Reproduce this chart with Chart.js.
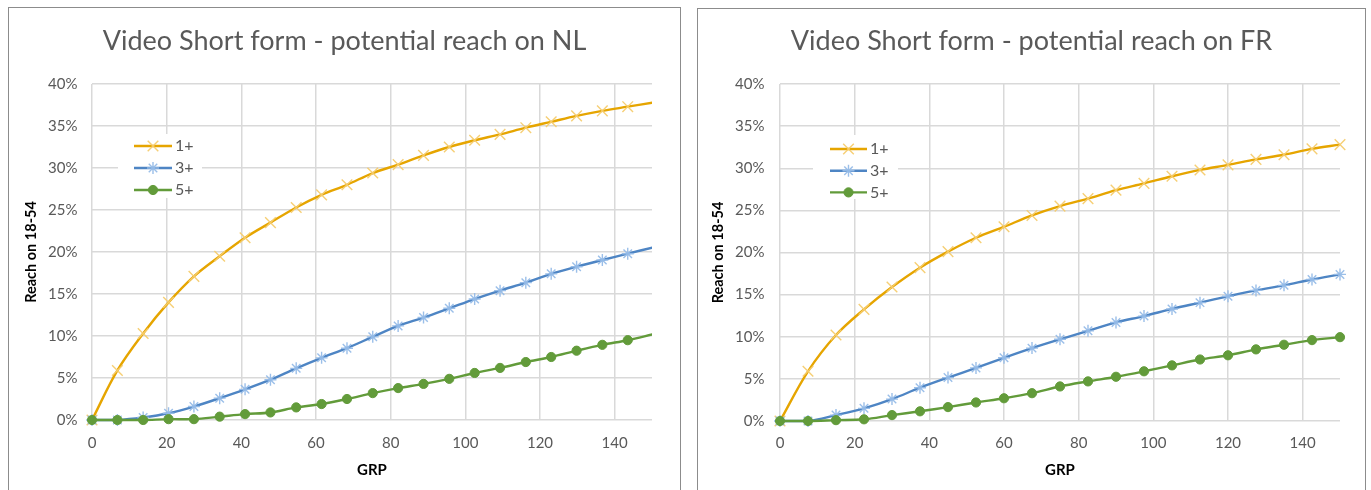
<!DOCTYPE html>
<html>
<head>
<meta charset="utf-8">
<title>Video Short form - potential reach</title>
<script src="https://cdn.jsdelivr.net/npm/chart.js@4.4.1/dist/chart.umd.min.js"></script>
<style>
  html, body { margin: 0; padding: 0; background: #fff; width: 1371px; height: 490px; overflow: hidden; }
  .box { position: absolute; border: 1px solid #8c8c8c; border-bottom: none; background: #fff; }
  #boxNL { left: 8px; top: 7px; width: 671px; height: 483px; }
  #boxFR { left: 697px; top: 8px; width: 667px; height: 482px; }
  canvas { display: block; }
</style>
</head>
<body>
<div class="box" id="boxNL"><canvas id="chartNL" width="671" height="483"></canvas></div>
<div class="box" id="boxFR"><canvas id="chartFR" width="667" height="482"></canvas></div>
<script>
// Series labels (frequency thresholds)
const SERIES = ['1+', '3+', '5+'];

// Netherlands: GRP steps and reach (%) on 18-54
const GRP_NL = [0, 6.8, 13.7, 20.5, 27.3, 34.2, 41.0, 47.8, 54.7, 61.5, 68.3, 75.2, 82.0, 88.8, 95.7, 102.5, 109.3, 116.2, 123.0, 129.8, 136.7, 143.5, 150.3];
const REACH1_NL = [0, 5.9, 10.3, 14.0, 17.1, 19.5, 21.7, 23.5, 25.3, 26.8, 28.0, 29.4, 30.4, 31.5, 32.5, 33.3, 34.0, 34.8, 35.5, 36.2, 36.8, 37.3, 37.8];
const REACH3_NL = [0, 0, 0.3, 0.8, 1.6, 2.6, 3.65, 4.8, 6.15, 7.4, 8.55, 9.9, 11.2, 12.2, 13.3, 14.4, 15.4, 16.35, 17.4, 18.25, 19.05, 19.8, 20.55];
const REACH5_NL = [0, 0, 0, 0.1, 0.1, 0.4, 0.7, 0.9, 1.5, 1.9, 2.5, 3.2, 3.8, 4.3, 4.9, 5.6, 6.2, 6.9, 7.5, 8.25, 8.95, 9.5, 10.2];

// France: GRP steps and reach (%) on 18-54
const GRP_FR = [0, 7.5, 15, 22.5, 30, 37.5, 45, 52.5, 60, 67.5, 75, 82.5, 90, 97.5, 105, 112.5, 120, 127.5, 135, 142.5, 150];
const REACH1_FR = [0, 5.9, 10.2, 13.25, 15.9, 18.2, 20.1, 21.75, 23.05, 24.4, 25.5, 26.4, 27.4, 28.2, 29.05, 29.8, 30.4, 31.05, 31.6, 32.3, 32.8];
const REACH3_FR = [0, 0, 0.7, 1.5, 2.6, 3.95, 5.15, 6.3, 7.5, 8.65, 9.7, 10.7, 11.7, 12.45, 13.3, 14.05, 14.8, 15.5, 16.1, 16.8, 17.4];
const REACH5_FR = [0, 0, 0.1, 0.2, 0.7, 1.15, 1.65, 2.2, 2.7, 3.3, 4.1, 4.7, 5.25, 5.9, 6.6, 7.3, 7.8, 8.5, 9.05, 9.6, 9.95];

// Axis ranges and tick steps
const X_MIN = 0, X_MAX = 150, X_STEP = 20;
const Y_MIN = 0, Y_MAX = 40, Y_STEP = 5;

const TEXT = '#595959';
const GRID = '#d9d9d9';
const FONT = 'Lato';

function pairs(xs, ys) {
  return xs.map((x, i) => ({ x: x, y: ys[i] }));
}

// Series look: line colour, marker style and colours
const STYLES = [
  { line: 'rgb(230,165,0)',  style: 'crossRot', radius: 7.5, fill: 'rgba(246,204,110,0.95)', stroke: 'rgba(246,204,110,0.95)', bw: 1.4 },
  { line: 'rgb(78,133,196)', style: 'star',     radius: 6,   fill: 'rgba(150,188,232,0.95)', stroke: 'rgba(150,188,232,0.95)', bw: 1.4 },
  { line: 'rgb(98,155,58)',  style: 'circle',   radius: 4.6, fill: 'rgb(98,155,58)',         stroke: 'rgb(98,155,58)',         bw: 1 }
];

// Legend drawn inside the plot area, with a white backing box
const insideLegend = {
  id: 'insideLegend',
  afterDraw(chart, args, opts) {
    const ctx = chart.ctx;
    const a = chart.chartArea;
    ctx.save();
    ctx.fillStyle = '#fff';
    ctx.fillRect(a.left + opts.box[0], a.top + opts.box[1], opts.box[2], opts.box[3]);
    chart.data.datasets.forEach((ds, i) => {
      const st = STYLES[i];
      const y = a.top + opts.rowY + i * opts.rowGap;
      const x0 = a.left + opts.lineX;
      const x1 = x0 + opts.lineLen;
      ctx.strokeStyle = st.line;
      ctx.lineWidth = ds.borderWidth;
      ctx.beginPath();
      ctx.moveTo(x0, y);
      ctx.lineTo(x1, y);
      ctx.stroke();
      ctx.fillStyle = st.fill;
      ctx.strokeStyle = st.stroke;
      ctx.lineWidth = st.bw;
      Chart.helpers.drawPoint(ctx, { pointStyle: st.style, radius: st.radius, borderWidth: st.bw, rotation: 0 }, (x0 + x1) / 2, y);
      ctx.fillStyle = TEXT;
      ctx.font = '16px ' + FONT;
      ctx.textAlign = 'left';
      ctx.textBaseline = 'middle';
      ctx.fillText(ds.label, x1 + opts.textGap, y);
    });
    ctx.restore();
  }
};

function buildChart(id, title, grp, series, lay) {
  const datasets = series.map((vals, i) => {
    const st = STYLES[i];
    return {
      label: SERIES[i],
      data: pairs(grp, vals),
      borderColor: st.line,
      backgroundColor: st.line,
      borderWidth: 2.4,
      tension: 0.35,
      pointStyle: st.style,
      pointRadius: c => (c.raw && c.raw.x > X_MAX) ? 0 : st.radius,
      pointBackgroundColor: st.fill,
      pointBorderColor: st.stroke,
      pointBorderWidth: st.bw,
      clip: lay.clip,
      order: 3 - i
    };
  });

  return new Chart(document.getElementById(id), {
    type: 'line',
    data: { datasets: datasets },
    plugins: [insideLegend],
    options: {
      responsive: false,
      animation: false,
      events: [],
      layout: { padding: { left: lay.side, right: lay.side, top: 0, bottom: 0 } },
      plugins: {
        legend: { display: false },
        tooltip: { enabled: false },
        title: {
          display: true,
          text: title,
          color: TEXT,
          font: { family: FONT, size: 27, weight: 'normal' },
          padding: { top: lay.titleTop, bottom: lay.titleBottom }
        },
        insideLegend: lay.legend
      },
      scales: {
        x: {
          type: 'linear',
          min: X_MIN,
          max: X_MAX,
          border: { display: false },
          grid: { color: GRID, lineWidth: 1.5, drawTicks: false },
          ticks: {
            stepSize: X_STEP,
            includeBounds: false,
            maxRotation: 0,
            color: TEXT,
            padding: lay.xTickPad,
            font: { family: FONT, size: 15 }
          },
          title: {
            display: true,
            text: 'GRP',
            color: '#000',
            font: { family: FONT, size: 15, weight: 'bold' },
            padding: { top: 0, bottom: lay.xTitlePad }
          },
          afterFit(s) { s.height = lay.xHeight; }
        },
        y: {
          min: Y_MIN,
          max: Y_MAX,
          border: { display: false },
          grid: { color: GRID, lineWidth: 1.5, drawTicks: false },
          ticks: {
            stepSize: Y_STEP,
            color: TEXT,
            padding: lay.yTickPad,
            font: { family: FONT, size: 15 },
            callback: v => v + '%'
          },
          title: {
            display: true,
            text: 'Reach on 18-54',
            color: '#000',
            font: { family: FONT, size: 14.5, weight: 'bold' },
            padding: { top: lay.yTitlePad, bottom: 0 }
          },
          afterFit(s) { s.width = lay.yWidth; }
        }
      }
    }
  });
}

buildChart('chartNL', 'Video Short form - potential reach on NL', GRP_NL,
  [REACH1_NL, REACH3_NL, REACH5_NL],
  {
    side: 28, yWidth: 55, xHeight: 71,
    titleTop: 16.8, titleBottom: 26.8,
    xTickPad: 13.8, xTitlePad: 12.2, yTickPad: 14.5, yTitlePad: -14.0,
    clip: { left: 10, top: 10, right: 0, bottom: 10 },
    legend: { box: [26, 50, 84, 64], lineX: 42, lineLen: 38, rowY: 62, rowGap: 22, textGap: 3 }
  });

buildChart('chartFR', 'Video Short form - potential reach on FR', GRP_FR,
  [REACH1_FR, REACH3_FR, REACH5_FR],
  {
    side: 25, yWidth: 57, xHeight: 70,
    titleTop: 15.8, titleBottom: 26.8,
    xTickPad: 13.5, xTitlePad: 11.9, yTickPad: 15.5, yTitlePad: -13.7,
    clip: { left: 10, top: 10, right: 10, bottom: 10 },
    legend: { box: [33, 51, 85, 64], lineX: 50, lineLen: 37, rowY: 65, rowGap: 21.7, textGap: 3 }
  });
</script>
</body>
</html>
